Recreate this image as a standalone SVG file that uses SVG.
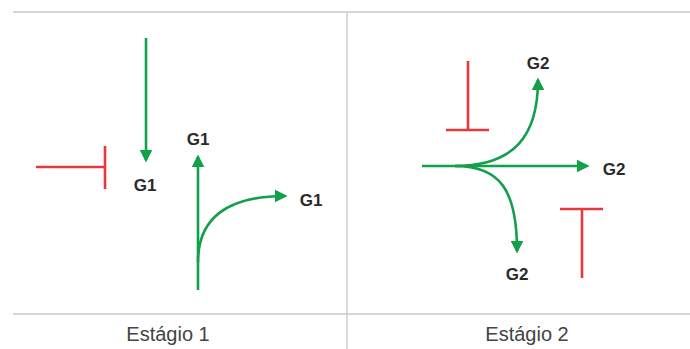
<svg xmlns="http://www.w3.org/2000/svg" width="690" height="349" viewBox="0 0 690 349">
<style>
.frame{stroke:#c8c8c8;stroke-width:1.3;fill:none}
.g{stroke:#12a04a;stroke-width:2.6;fill:none}
.r{stroke:#e8383d;stroke-width:2.6;fill:none}
.lbl{font-family:"Liberation Sans",Arial,sans-serif;font-weight:bold;font-size:17px;fill:#2a2a2a;text-anchor:middle}
.cap{font-family:"Liberation Sans",Arial,sans-serif;font-size:20px;fill:#444;text-anchor:middle}
</style>
<defs>
<marker id="ah" markerWidth="5" markerHeight="5" refX="4" refY="2.5" orient="auto" markerUnits="strokeWidth">
<path d="M0,0 L5,2.5 L0,5 Z" fill="#12a04a"/>
</marker>
</defs>
<rect width="690" height="349" fill="#fff"/>
<g id="frame">
<line class="frame" x1="13" y1="12" x2="690" y2="12"/>
<line class="frame" x1="13" y1="314" x2="690" y2="314"/>
<line class="frame" x1="347" y1="12" x2="347" y2="349"/>
</g>
<g id="connectors">
<path class="g" d="M146,38 V160" marker-end="url(#ah)"/>
<path class="g" d="M198,290 V157" marker-end="url(#ah)"/>
<path class="g" d="M198,262 C198,220 225,196 285,196" marker-end="url(#ah)"/>
<path class="g" d="M422,166 H587" marker-end="url(#ah)"/>
<path class="g" d="M455,166 C515,166 538,135 538,80" marker-end="url(#ah)"/>
<path class="g" d="M455,166 C500,166 517,190 517,251" marker-end="url(#ah)"/>
</g>
<g id="inhib1"><path class="r" d="M36,167 H105 M105,146 V189"/></g>
<g id="inhib2"><path class="r" d="M468,61 V130 M446,130 H489"/></g>
<g id="inhib3"><path class="r" d="M560,209 H603 M582,209 V278"/></g>
<g id="n1"><text class="lbl" x="145" y="191">G1</text></g>
<g id="n2"><text class="lbl" x="198" y="145">G1</text></g>
<g id="n3"><text class="lbl" x="311" y="206">G1</text></g>
<g id="n4"><text class="lbl" x="538" y="69">G2</text></g>
<g id="n5"><text class="lbl" x="614" y="175">G2</text></g>
<g id="n6"><text class="lbl" x="517" y="280">G2</text></g>
<g id="cap1"><text class="cap" x="168" y="341">Estágio 1</text></g>
<g id="cap2"><text class="cap" x="527" y="341">Estágio 2</text></g>
</svg>
